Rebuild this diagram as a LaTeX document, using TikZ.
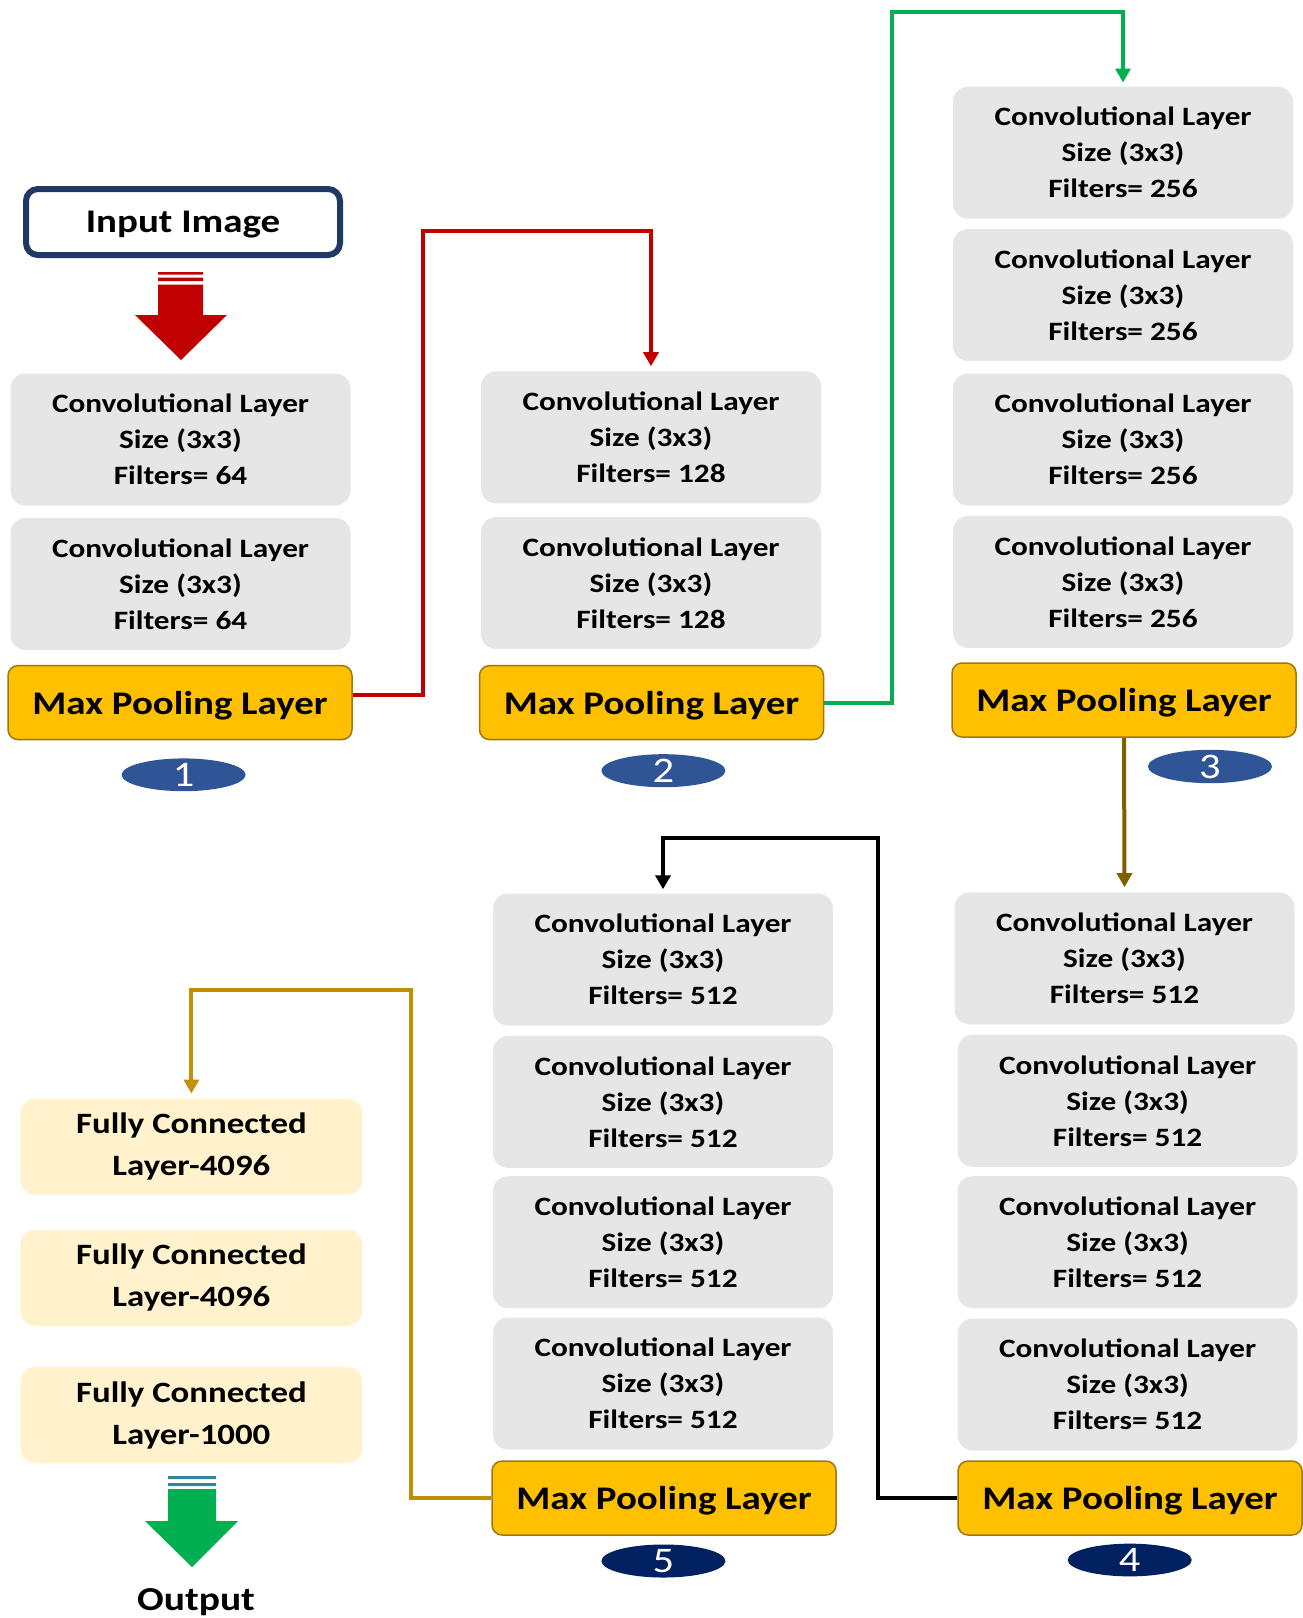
\documentclass[tikz,border=0pt]{standalone}
\usepackage{fontspec}
\setmainfont{Carlito}[FakeStretch=1.18]
\usetikzlibrary{calc,arrows.meta,positioning,shapes.geometric}
\definecolor{convgray}{HTML}{E6E6E6}
\definecolor{poolfill}{HTML}{FFC000}
\definecolor{pooledge}{HTML}{9C7A10}
\definecolor{fcfill}{HTML}{FFF2CC}
\definecolor{inedge}{HTML}{1F3864}
\definecolor{numblue}{HTML}{2F5597}
\definecolor{numnavy}{HTML}{002060}
\definecolor{redline}{HTML}{C00000}
\definecolor{greenline}{HTML}{00B050}
\definecolor{brownline}{HTML}{7F6000}
\definecolor{goldline}{HTML}{BF9000}
\definecolor{tealstripe}{HTML}{31859C}

\begin{document}
\begin{tikzpicture}[x=1pt,y=-1pt,>={Triangle[width=15pt,length=14pt]},
	conv/.style={fill=convgray,rounded corners=15pt,minimum width=340pt,minimum height=132pt,align=center,font=\bfseries\fontsize{26.5}{36}\selectfont},
	pool/.style={fill=poolfill,draw=pooledge,line width=1.5pt,rounded corners=10pt,minimum width=344pt,minimum height=74pt,text depth=0pt,font=\bfseries\fontsize{33}{36}\selectfont},
	fc/.style={fill=fcfill,rounded corners=15pt,minimum width=342pt,minimum height=96pt,align=center,font=\bfseries\fontsize{29.5}{42}\selectfont},
	num/.style={ellipse,fill=#1,inner sep=0pt,minimum width=124pt,minimum height=31pt,text=white,font=\fontsize{36}{36}\selectfont},
	link/.style={->,line width=4pt,draw=#1}]
		\useasboundingbox (0,0) rectangle (1303,1618);
		\node[draw=inedge,line width=6pt,rounded corners=12pt,minimum width=314pt,minimum height=66pt,text depth=0pt,font=\bfseries\fontsize{33}{36}\selectfont] (input) at (183,222) {Input Image};
		\fill[redline] (158,272) rectangle (203,274.5) (158,277.5) rectangle (203,281);
		\fill[redline] (158,284.5) -- (203,284.5) -- (203,315) -- (227,315) -- (181,360) -- (135,315) -- (158,315) -- cycle;
		\node[conv] (conv-1a) at (180.5,439.5) {Convolutional Layer\\Size (3x3)\\Filters= 64};
		\node[conv] (conv-1b) at (180.5,584) {Convolutional Layer\\Size (3x3)\\Filters= 64};
		\node[pool] (mp-1) at (180,702.6) {Max Pooling Layer};
		\node[num=numblue] (n-1) at (183.6,774.8) {1};
		\node[conv] (conv-2a) at (651,437.4) {Convolutional Layer\\Size (3x3)\\Filters= 128};
		\node[conv] (conv-2b) at (651,583) {Convolutional Layer\\Size (3x3)\\Filters= 128};
		\node[pool] (mp-2) at (651.5,702.6) {Max Pooling Layer};
		\node[num=numblue] (n-2) at (663.4,770.7) {2};
		\node[conv] (conv-3a) at (1123,152.7) {Convolutional Layer\\Size (3x3)\\Filters= 256};
		\node[conv] (conv-3b) at (1123,295) {Convolutional Layer\\Size (3x3)\\Filters= 256};
		\node[conv] (conv-3c) at (1123,439.5) {Convolutional Layer\\Size (3x3)\\Filters= 256};
		\node[conv] (conv-3d) at (1123,581.9) {Convolutional Layer\\Size (3x3)\\Filters= 256};
		\node[pool] (mp-3) at (1124,700) {Max Pooling Layer};
		\node[num=numblue] (n-3) at (1210,766.5) {3};
		\node[conv] (conv-4a) at (1124.5,958.4) {Convolutional Layer\\Size (3x3)\\Filters= 512};
		\node[conv] (conv-4b) at (1127.6,1100.8) {Convolutional Layer\\Size (3x3)\\Filters= 512};
		\node[conv] (conv-4c) at (1127.6,1242.2) {Convolutional Layer\\Size (3x3)\\Filters= 512};
		\node[conv] (conv-4d) at (1127.6,1384.5) {Convolutional Layer\\Size (3x3)\\Filters= 512};
		\node[pool] (mp-4) at (1130,1498) {Max Pooling Layer};
		\node[num=numnavy] (n-4) at (1129.7,1560) {4};
		\node[conv] (conv-5a) at (663,959.5) {Convolutional Layer\\Size (3x3)\\Filters= 512};
		\node[conv] (conv-5b) at (663,1101.9) {Convolutional Layer\\Size (3x3)\\Filters= 512};
		\node[conv] (conv-5c) at (663,1242.2) {Convolutional Layer\\Size (3x3)\\Filters= 512};
		\node[conv] (conv-5d) at (663,1383.5) {Convolutional Layer\\Size (3x3)\\Filters= 512};
		\node[pool] (mp-5) at (664,1498) {Max Pooling Layer};
		\node[num=numnavy] (n-5) at (663.4,1561) {5};
		\node[fc] (fc-1) at (191.4,1146.7) {Fully Connected\\Layer-4096};
		\node[fc] (fc-2) at (191.4,1277.8) {Fully Connected\\Layer-4096};
		\node[fc] (fc-3) at (191.4,1415) {Fully Connected\\Layer-1000};
		\fill[tealstripe] (168,1476) rectangle (216,1479) (168,1483) rectangle (216,1486);
		\fill[greenline] (168,1489) -- (216,1489) -- (216,1521) -- (238,1521) -- (192,1567) -- (145,1521) -- (168,1521) -- cycle;
		\node[font=\bfseries\fontsize{33.5}{36}\selectfont] (output) at (196,1602) {Output};
		\draw[link=redline] ([yshift=8pt]mp-1.east) -| (423,231) -| ([yshift=5pt]conv-2a.north);
		\draw[link=greenline] (mp-2.east) -| (892,12) -| ([yshift=4pt]conv-3a.north);
		\draw[link=brownline] (mp-3.south) -- ([yshift=5pt]conv-4a.north);
		\draw[link=black] (mp-4.west) -| (878,838) -| ([yshift=4pt]conv-5a.north);
		\draw[link=goldline] (mp-5.west) -| (410.6,990) -| ([yshift=5pt]fc-1.north);
	\end{tikzpicture}
\end{document}
